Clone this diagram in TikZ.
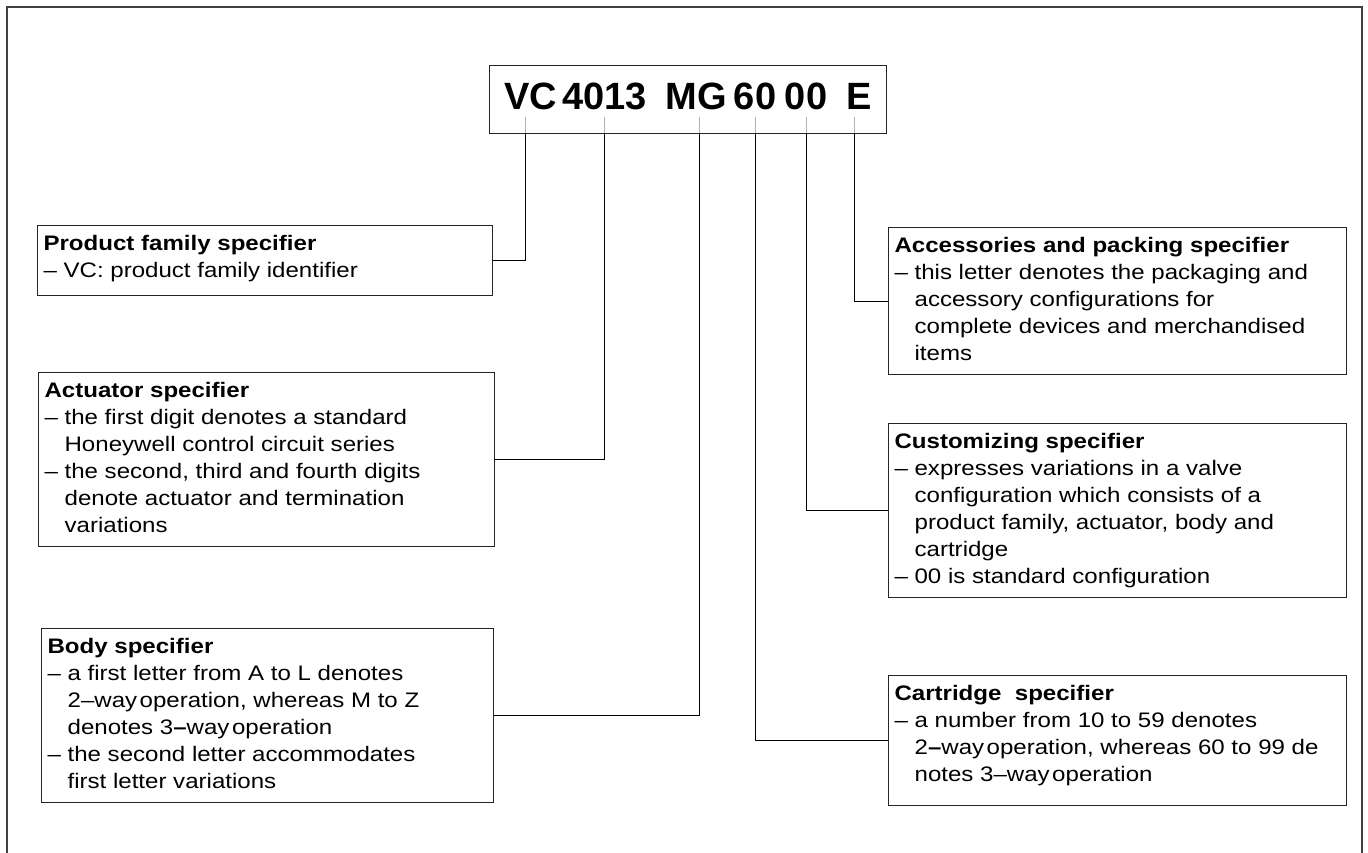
\documentclass[tikz,border=0pt]{standalone}
\usepackage{fontspec}
\setmainfont{Liberation Sans}[FakeStretch=1.146]
\newfontfamily\codefont{Liberation Sans}
\newcommand{\di}{–\ }
\newcommand{\ci}{\hphantom{–\ }}
\newcommand{\ws}{\hspace{0.12em}}
\newcommand{\bd}{{\bfseries –}}
\begin{document}
\begin{tikzpicture}[x=1pt,y=-1pt,
  frame/.style={draw=black!75,line width=1.3pt},
  spec/.style={draw=black!85,line width=1.1pt,inner sep=6pt,anchor=north west,
    font=\fontsize{21}{27}\selectfont},
  codetxt/.style={anchor=base,inner sep=0pt,font=\codefont\bfseries\fontsize{38}{42}\selectfont},
  tick/.style={draw=black!30,line width=0.9pt},
  conn/.style={draw=black,line width=1pt}]
\useasboundingbox (0,0) rectangle (1368,853);
% outer frame (open at the bottom)
\draw[frame] (7,853) -- (7,7) -- (1362,7) -- (1362,853);
% code box
\node[draw=black!85,line width=1.2pt,minimum width=397pt,minimum height=68pt,
  inner sep=0pt,anchor=north west] (code) at (489,65) {};
\node[codetxt] (vc) at (531,110) {VC};
\node[codetxt] (n4013) at (604.5,110) {4013};
\node[codetxt] (mg) at (696.5,110) {MG};
\node[codetxt] (s60) at (755,110) {60};
\node[codetxt] (z00) at (806,110) {00};
\node[codetxt] (e) at (859.5,110) {E};
\foreach \n/\x in {VC/525,N4/604,MG/699,S60/755,Z00/806,E/854}{
  \coordinate (t\n) at (\x,117);
  \coordinate (c\n) at (\x,133);
  \draw[tick] (t\n) -- (c\n);
}
% left boxes
\node[spec] (pf) at (37,225) {\parbox[t][58pt][t]{443pt}{\raggedright\strut
  \textbf{Product family specifier}\\
  \di VC: product family identifier}};
\node[spec] (act) at (38,372) {\parbox[t][162pt][t]{444pt}{\raggedright\strut
  \textbf{Actuator specifier}\\
  \di the first digit denotes a standard\\
  \ci Honeywell control circuit series\\
  \di the second, third and fourth digits\\
  \ci denote actuator and termination\\
  \ci variations}};
\node[spec] (body) at (41,628) {\parbox[t][162pt][t]{440pt}{\raggedright\strut
  \textbf{Body specifier}\\
  \di a first letter from A to L denotes\\
  \ci 2–way\ws operation, whereas M to Z\\
  \ci denotes 3\bd way\ws operation\\
  \di the second letter accommodates\\
  \ci first letter variations}};
% right boxes
\node[spec] (acc) at (888,227) {\parbox[t][135pt][t]{446pt}{\raggedright\strut
  \textbf{Accessories and packing specifier}\\
  \di this letter denotes the packaging and\\
  \ci accessory configurations for\\
  \ci complete devices and merchandised\\
  \ci items}};
\node[spec] (cust) at (888,423) {\parbox[t][162pt][t]{446pt}{\raggedright\strut
  \textbf{Customizing specifier}\\
  \di expresses variations in a valve\\
  \ci configuration which consists of a\\
  \ci product family, actuator, body and\\
  \ci cartridge\\
  \di 00 is standard configuration}};
\node[spec] (cart) at (888,675) {\parbox[t][118pt][t]{446pt}{\raggedright\strut
  \textbf{Cartridge\ \ specifier}\\
  \di a number from 10 to 59 denotes\\
  \ci 2\bd way\ws operation, whereas 60 to 99 de\\
  \ci notes 3–way\ws operation}};
% connectors
\draw[conn] (cVC) |- (pf.east);
\draw[conn] (cN4) |- (act.east);
\draw[conn] (cMG) |- (body.east);
\draw[conn] (cS60) |- (cart.west);
\draw[conn] (cZ00) |- (cust.west);
\draw[conn] (cE) |- (acc.west);
\end{tikzpicture}
\end{document}
